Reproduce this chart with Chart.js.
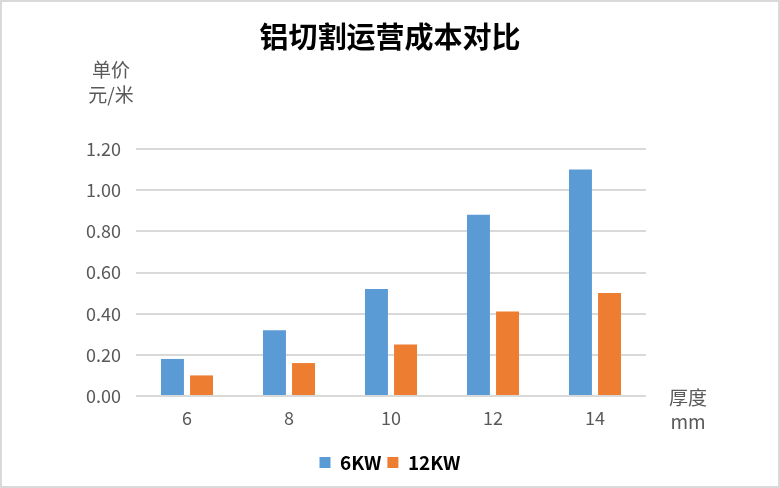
<!DOCTYPE html>
<html>
<head>
<meta charset="utf-8">
<title>铝切割运营成本对比</title>
<script src="https://cdn.jsdelivr.net/npm/chart.js@4/dist/chart.umd.min.js"></script>
<style>
    html, body { margin: 0; padding: 0; background: #fff; }
    #contenedor { width: 780px; height: 488px; }
</style>
</head>
<body>
<div id="contenedor"><canvas id="graficoCosto" width="780" height="488"></canvas></div>
<script>
const espesores = ['6', '8', '10', '12', '14'];
const costo6kw = [0.18, 0.32, 0.52, 0.88, 1.10];
const costo12kw = [0.10, 0.16, 0.25, 0.41, 0.50];
const ticksY = [0, 0.2, 0.4, 0.6, 0.8, 1.0, 1.2];

const fuente = '"Noto Sans CJK SC", "Noto Sans", sans-serif';

// textos fijos: titulo, unidades y borde del grafico
const textosExtra = {
    id: 'textosExtra',
    beforeDraw(chart) {
        const ctx = chart.ctx;
        ctx.save();
        ctx.fillStyle = '#fff';
        ctx.fillRect(0, 0, chart.width, chart.height);
        ctx.strokeStyle = '#d9d9d9';
        ctx.lineWidth = 2;
        ctx.strokeRect(1, 1, chart.width - 2, chart.height - 2);
        ctx.restore();
    },
    afterDraw(chart) {
        const ctx = chart.ctx;
        ctx.save();
        ctx.textAlign = 'center';
        ctx.textBaseline = 'middle';
        ctx.fillStyle = '#000';
        ctx.font = 'bold 29px ' + fuente;
        ctx.fillText('铝切割运营成本对比', 390, 37);

        ctx.fillStyle = '#595959';
        ctx.font = '19px ' + fuente;
        ctx.fillText('单价', 111, 70);
        ctx.fillText('元/米', 111, 95);
        ctx.fillText('厚度', 688, 398);
        ctx.fillText('mm', 688, 422);
        ctx.restore();
    }
};

document.addEventListener('DOMContentLoaded', function() {
    const ctx = document.getElementById('graficoCosto').getContext('2d');

    new Chart(ctx, {
        type: 'bar',
        data: {
            labels: espesores,
            datasets: [{
                label: '6KW',
                data: costo6kw,
                backgroundColor: '#5B9BD5',
                categoryPercentage: 0.57,
                barPercentage: 0.79
            }, {
                label: '12KW',
                data: costo12kw,
                backgroundColor: '#ED7D31',
                categoryPercentage: 0.57,
                barPercentage: 0.79
            }]
        },
        options: {
            responsive: false,
            animation: false,
            layout: {
                padding: { left: 0, right: 0, top: 149, bottom: 6 }
            },
            plugins: {
                title: { display: false },
                tooltip: { enabled: false },
                legend: {
                    position: 'bottom',
                    labels: {
                        boxWidth: 11,
                        boxHeight: 11,
                        padding: 6,
                        color: '#000',
                        font: { family: fuente, size: 19, weight: 'bold' }
                    }
                }
            },
            scales: {
                x: {
                    grid: { display: false },
                    border: { display: false },
                    ticks: {
                        color: '#595959',
                        padding: 3,
                        font: { family: fuente, size: 18 }
                    },
                    afterFit: s => { s.height = 51; }
                },
                y: {
                    min: 0,
                    max: 1.2,
                    afterBuildTicks: s => { s.ticks = ticksY.map(v => ({ value: v })); },
                    afterFit: s => { s.width = 136; },
                    grid: { color: '#d9d9d9', lineWidth: 2, drawTicks: false },
                    border: { display: false },
                    ticks: {
                        color: '#595959',
                        padding: 15,
                        font: { family: fuente, size: 18 },
                        callback: v => v.toFixed(2)
                    }
                },
                // eje vacio a la derecha, solo reserva el espacio de "厚度 mm"
                derecha: {
                    position: 'right',
                    grid: { display: false },
                    border: { display: false },
                    ticks: { display: false },
                    afterFit: s => { s.width = 134; }
                }
            }
        },
        plugins: [textosExtra]
    });
});
</script>
</body>
</html>
